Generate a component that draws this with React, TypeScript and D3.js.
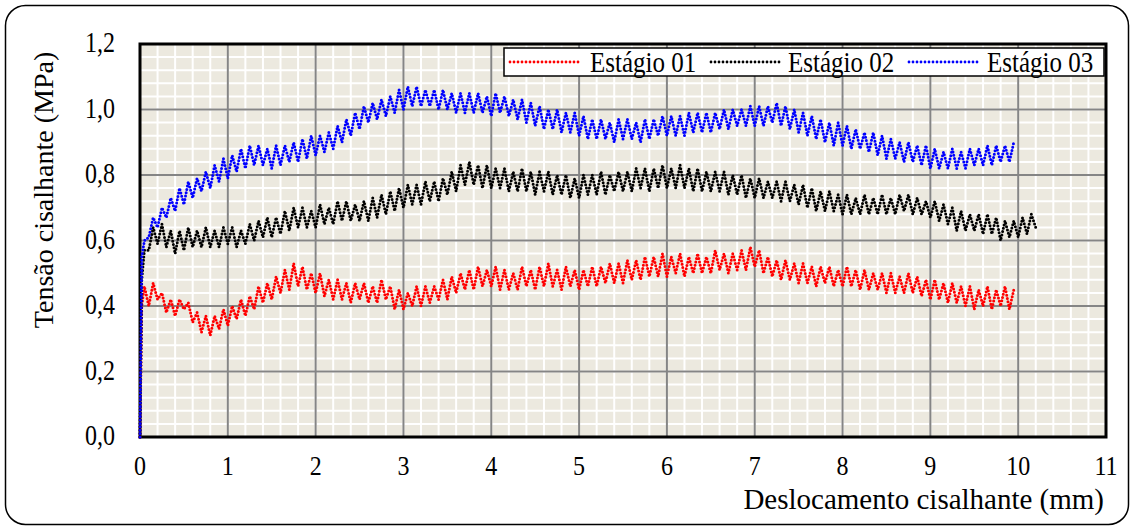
import React from 'react';
import * as d3 from 'd3';

// Shear displacement (mm), shared sampling for the three stages
const displacement = [
  0, 0.02, 0.05, 0.1, 0.15, 0.2, 0.25, 0.3, 0.35, 0.4, 0.45, 0.5, 0.55, 0.6, 0.65, 0.7, 0.75, 0.8, 0.85, 0.9, 0.95,
  1, 1.05, 1.1, 1.15, 1.2, 1.25, 1.3, 1.35, 1.4, 1.45, 1.5, 1.55, 1.6, 1.65, 1.7, 1.75, 1.8, 1.85, 1.9, 1.95,
  2, 2.05, 2.1, 2.15, 2.2, 2.25, 2.3, 2.35, 2.4, 2.45, 2.5, 2.55, 2.6, 2.65, 2.7, 2.75, 2.8, 2.85, 2.9, 2.95,
  3, 3.05, 3.1, 3.15, 3.2, 3.25, 3.3, 3.35, 3.4, 3.45, 3.5, 3.55, 3.6, 3.65, 3.7, 3.75, 3.8, 3.85, 3.9, 3.95,
  4, 4.05, 4.1, 4.15, 4.2, 4.25, 4.3, 4.35, 4.4, 4.45, 4.5, 4.55, 4.6, 4.65, 4.7, 4.75, 4.8, 4.85, 4.9, 4.95,
  5, 5.05, 5.1, 5.15, 5.2, 5.25, 5.3, 5.35, 5.4, 5.45, 5.5, 5.55, 5.6, 5.65, 5.7, 5.75, 5.8, 5.85, 5.9, 5.95,
  6, 6.05, 6.1, 6.15, 6.2, 6.25, 6.3, 6.35, 6.4, 6.45, 6.5, 6.55, 6.6, 6.65, 6.7, 6.75, 6.8, 6.85, 6.9, 6.95,
  7, 7.05, 7.1, 7.15, 7.2, 7.25, 7.3, 7.35, 7.4, 7.45, 7.5, 7.55, 7.6, 7.65, 7.7, 7.75, 7.8, 7.85, 7.9, 7.95,
  8, 8.05, 8.1, 8.15, 8.2, 8.25, 8.3, 8.35, 8.4, 8.45, 8.5, 8.55, 8.6, 8.65, 8.7, 8.75, 8.8, 8.85, 8.9, 8.95,
  9, 9.05, 9.1, 9.15, 9.2, 9.25, 9.3, 9.35, 9.4, 9.45, 9.5, 9.55, 9.6, 9.65, 9.7, 9.75, 9.8, 9.85, 9.9, 9.95,
  10, 10.05, 10.1, 10.15, 10.2,
];

// Shear stress (MPa)
const estagio01 = [
  0, 0.40,
  0.46, 0.40, 0.47, 0.42, 0.44, 0.38, 0.42, 0.37, 0.42, 0.39, 0.41, 0.35, 0.38, 0.32, 0.37, 0.31, 0.37, 0.33, 0.39,
  0.34, 0.40, 0.36, 0.42, 0.37, 0.43, 0.39, 0.46, 0.41, 0.47, 0.42, 0.49, 0.44, 0.51, 0.45, 0.53, 0.46, 0.52, 0.45, 0.50,
  0.44, 0.50, 0.43, 0.48, 0.42, 0.48, 0.42, 0.47, 0.41, 0.47, 0.42, 0.47, 0.41, 0.46, 0.41, 0.48, 0.42, 0.46, 0.39, 0.45,
  0.39, 0.44, 0.40, 0.46, 0.40, 0.46, 0.41, 0.46, 0.42, 0.48, 0.42, 0.49, 0.44, 0.50, 0.45, 0.51, 0.45, 0.52, 0.46, 0.51,
  0.46, 0.52, 0.45, 0.51, 0.45, 0.50, 0.45, 0.52, 0.46, 0.51, 0.45, 0.52, 0.46, 0.53, 0.46, 0.51, 0.45, 0.52, 0.46, 0.51,
  0.45, 0.51, 0.46, 0.52, 0.46, 0.52, 0.47, 0.53, 0.47, 0.53, 0.47, 0.54, 0.48, 0.54, 0.48, 0.55, 0.49, 0.55, 0.49, 0.56,
  0.49, 0.55, 0.50, 0.56, 0.49, 0.55, 0.50, 0.56, 0.50, 0.55, 0.50, 0.57, 0.51, 0.56, 0.50, 0.56, 0.51, 0.57, 0.51, 0.58,
  0.52, 0.57, 0.50, 0.55, 0.49, 0.54, 0.48, 0.54, 0.48, 0.53, 0.47, 0.53, 0.47, 0.52, 0.46, 0.52, 0.47, 0.52, 0.46, 0.51,
  0.46, 0.52, 0.46, 0.51, 0.45, 0.51, 0.45, 0.50, 0.45, 0.50, 0.44, 0.50, 0.44, 0.49, 0.44, 0.50, 0.44, 0.49, 0.43, 0.48,
  0.42, 0.48, 0.42, 0.47, 0.41, 0.47, 0.41, 0.46, 0.40, 0.46, 0.39, 0.45, 0.40, 0.46, 0.39, 0.45, 0.40, 0.46, 0.39, 0.45,
];

const estagio02 = [
  0, 0.48,
  0.57, 0.57, 0.64, 0.59, 0.65, 0.58, 0.63, 0.56, 0.63, 0.57, 0.64, 0.58, 0.63, 0.58, 0.64, 0.58, 0.63, 0.58, 0.64,
  0.59, 0.64, 0.58, 0.63, 0.59, 0.65, 0.60, 0.66, 0.61, 0.67, 0.61, 0.67, 0.62, 0.69, 0.63, 0.70, 0.64, 0.70, 0.64, 0.69,
  0.64, 0.71, 0.65, 0.70, 0.65, 0.72, 0.66, 0.72, 0.66, 0.71, 0.66, 0.72, 0.66, 0.73, 0.67, 0.74, 0.68, 0.75, 0.69, 0.76,
  0.70, 0.77, 0.71, 0.77, 0.71, 0.78, 0.72, 0.78, 0.72, 0.79, 0.74, 0.81, 0.75, 0.83, 0.77, 0.84, 0.77, 0.83, 0.76, 0.83,
  0.76, 0.82, 0.76, 0.82, 0.75, 0.81, 0.75, 0.82, 0.75, 0.81, 0.74, 0.81, 0.75, 0.81, 0.74, 0.80, 0.74, 0.80, 0.73, 0.79,
  0.73, 0.80, 0.74, 0.80, 0.74, 0.81, 0.74, 0.80, 0.75, 0.81, 0.75, 0.81, 0.75, 0.82, 0.76, 0.82, 0.75, 0.82, 0.76, 0.83,
  0.76, 0.82, 0.76, 0.83, 0.76, 0.82, 0.75, 0.82, 0.75, 0.81, 0.75, 0.81, 0.75, 0.81, 0.74, 0.80, 0.74, 0.80, 0.73, 0.79,
  0.73, 0.79, 0.73, 0.78, 0.73, 0.78, 0.72, 0.78, 0.72, 0.77, 0.71, 0.77, 0.70, 0.76, 0.69, 0.75, 0.69, 0.75, 0.69, 0.74,
  0.68, 0.74, 0.68, 0.73, 0.68, 0.74, 0.68, 0.73, 0.68, 0.74, 0.68, 0.73, 0.68, 0.74, 0.69, 0.74, 0.68, 0.73, 0.68, 0.72,
  0.67, 0.72, 0.66, 0.71, 0.65, 0.70, 0.63, 0.69, 0.63, 0.68, 0.63, 0.68, 0.62, 0.68, 0.62, 0.67, 0.60, 0.66, 0.61, 0.66,
  0.61, 0.67, 0.62, 0.68, 0.64,
];

const estagio03 = [
  0, 0.55,
  0.60, 0.61, 0.67, 0.64, 0.70, 0.67, 0.73, 0.69, 0.76, 0.71, 0.78, 0.73, 0.79, 0.75, 0.81, 0.76, 0.83, 0.78, 0.85,
  0.79, 0.86, 0.81, 0.88, 0.82, 0.89, 0.83, 0.89, 0.83, 0.88, 0.82, 0.89, 0.83, 0.89, 0.84, 0.90, 0.84, 0.91, 0.85, 0.92,
  0.86, 0.92, 0.87, 0.93, 0.88, 0.95, 0.90, 0.97, 0.92, 0.99, 0.94, 1.01, 0.96, 1.02, 0.97, 1.03, 0.98, 1.04, 0.99, 1.06,
  1.00, 1.07, 1.01, 1.07, 1.01, 1.06, 1.01, 1.06, 1.00, 1.06, 1.00, 1.05, 0.99, 1.05, 0.99, 1.05, 0.99, 1.05, 0.99, 1.04,
  0.98, 1.05, 0.99, 1.04, 0.98, 1.03, 0.97, 1.03, 0.96, 1.02, 0.95, 1.01, 0.94, 1.00, 0.94, 1.00, 0.93, 0.99, 0.93, 0.99,
  0.92, 0.98, 0.91, 0.97, 0.91, 0.97, 0.91, 0.96, 0.90, 0.97, 0.91, 0.97, 0.91, 0.96, 0.90, 0.97, 0.91, 0.97, 0.92, 0.98,
  0.92, 0.98, 0.92, 0.98, 0.92, 0.99, 0.93, 0.99, 0.93, 0.99, 0.93, 0.99, 0.94, 1.00, 0.94, 1.00, 0.95, 1.00, 0.95, 1.01,
  0.95, 1.01, 0.95, 1.01, 0.96, 1.02, 0.95, 1.01, 0.94, 1.00, 0.93, 0.99, 0.92, 0.98, 0.91, 0.97, 0.90, 0.96, 0.89, 0.96,
  0.89, 0.95, 0.88, 0.94, 0.88, 0.93, 0.87, 0.93, 0.86, 0.92, 0.85, 0.91, 0.85, 0.90, 0.84, 0.90, 0.84, 0.89, 0.83, 0.89,
  0.82, 0.88, 0.82, 0.87, 0.82, 0.88, 0.82, 0.87, 0.82, 0.88, 0.83, 0.88, 0.83, 0.89, 0.83, 0.89, 0.84, 0.89, 0.84, 0.90,
];

const seriesNames = ['Estágio 01', 'Estágio 02', 'Estágio 03'];
const seriesColors = ['#ff0000', '#000000', '#0000ff'];
const xTicks = [0, 1, 2, 3, 4, 5, 6, 7, 8, 9, 10, 11];
const yTicks = [0, 0.2, 0.4, 0.6, 0.8, 1.0, 1.2];
const yTickLabels = ['0,0', '0,2', '0,4', '0,6', '0,8', '1,0', '1,2'];
const xTitle = 'Deslocamento cisalhante (mm)';
const yTitle = 'Tensão cisalhante (MPa)';

const FONT = "'Liberation Serif', 'Times New Roman', serif";
const SY = 1.2;

export default function App() {
  const W = 1134;
  const H = 530;
  const left = 140, right = 1106, top = 44, bottom = 437;
  const x = d3.scaleLinear().domain([0, 11]).range([left, right]);
  const y = d3.scaleLinear().domain([0, 1.2]).range([bottom, top]);

  const minorX = d3.range(0, 55).map((i) => i * 0.2);
  const minorY = d3.range(0, 30).map((i) => i * 0.04);

  const series = [estagio01, estagio02, estagio03];
  const lineGen = (vals: number[]) =>
    d3.line<number>()
      .x((_, i) => x(displacement[i]))
      .y((d) => y(d))(vals) || '';

  const legendEntries = [
    { x1: 510, x2: 582, tx: 590 },
    { x1: 711, x2: 781, tx: 788 },
    { x1: 909, x2: 978, tx: 987 },
  ];

  return (
    <svg width={W} height={H} style={{ position: 'absolute', left: 0, top: 0, background: '#fff' }}>
      <rect x={5.5} y={5.5} width={W - 11} height={H - 11} rx={20} ry={20} fill="#fff" stroke="#000" strokeWidth={1.5} />
      <rect x={left} y={top} width={right - left} height={bottom - top} fill="#ECE9DF" />
      {minorX.map((v, i) => (
        <line key={'mx' + i} x1={x(v)} x2={x(v)} y1={top} y2={bottom} stroke="#ffffff" strokeWidth={2} />
      ))}
      {minorY.map((v, i) => (
        <line key={'my' + i} x1={left} x2={right} y1={y(v)} y2={y(v)} stroke="#ffffff" strokeWidth={2} />
      ))}
      {xTicks.map((v) => (
        <line key={'gx' + v} x1={x(v)} x2={x(v)} y1={top} y2={bottom} stroke="#858585" strokeWidth={2} />
      ))}
      {yTicks.map((v) => (
        <line key={'gy' + v} x1={left} x2={right} y1={y(v)} y2={y(v)} stroke="#858585" strokeWidth={2} />
      ))}
      <rect x={left} y={top} width={right - left} height={bottom - top} fill="none" stroke="#000" strokeWidth={3} />
      {series.map((vals, si) => (
        <path
          key={'s' + si}
          d={lineGen(vals)}
          fill="none"
          stroke={seriesColors[si]}
          strokeWidth={3}
          strokeLinecap="round"
          strokeDasharray="0 3.4"
        />
      ))}
      {/* Y tick labels */}
      {yTicks.map((v, i) => (
        <text
          key={'yl' + v}
          transform={`translate(${left - 25},${y(v) + 8}) scale(1,${SY})`}
          textAnchor="end"
          fontFamily={FONT}
          fontSize={24}
          fill="#000"
        >
          {yTickLabels[i]}
        </text>
      ))}
      {/* X tick labels */}
      {xTicks.map((v) => (
        <text
          key={'xl' + v}
          transform={`translate(${x(v)},${bottom + 38}) scale(1,1.15)`}
          textAnchor="middle"
          fontFamily={FONT}
          fontSize={24}
          fill="#000"
        >
          {v}
        </text>
      ))}
      <text
        transform={`translate(${1104},${509}) scale(1,1.05)`}
        textAnchor="end"
        fontFamily={FONT}
        fontSize={29}
        fill="#000"
      >
        {xTitle}
      </text>
      <text
        transform={`translate(${53},${190}) rotate(-90)`}
        textAnchor="middle"
        fontFamily={FONT}
        fontSize={28}
        fill="#000"
      >
        {yTitle}
      </text>
      {/* Legend */}
      <rect x={504} y={48} width={600} height={28} fill="#fff" stroke="#000" strokeWidth={1.5} />
      {legendEntries.map((e, i) => (
        <g key={'lg' + i}>
          <line
            x1={e.x1}
            x2={e.x2}
            y1={62}
            y2={62}
            stroke={seriesColors[i]}
            strokeWidth={2.8}
            strokeLinecap="round"
            strokeDasharray="0 4"
          />
          <text
            transform={`translate(${e.tx},${72}) scale(1,${SY})`}
            fontFamily={FONT}
            fontSize={25}
            fill="#000"
          >
            {seriesNames[i]}
          </text>
        </g>
      ))}
    </svg>
  );
}
